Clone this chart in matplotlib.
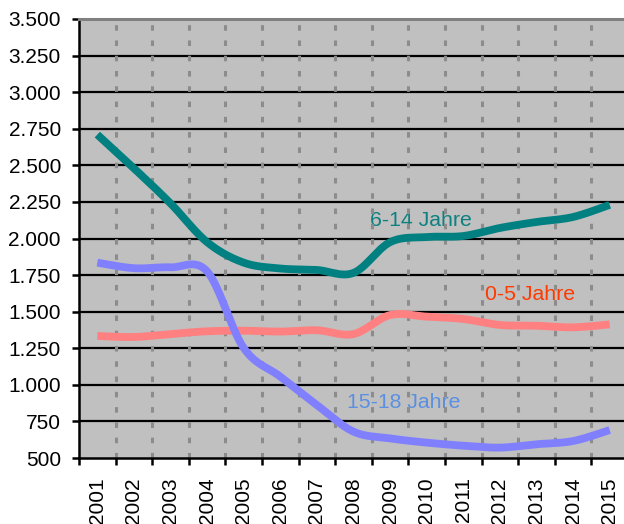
import matplotlib
matplotlib.use("Agg")
import matplotlib.pyplot as plt
import numpy as np
from matplotlib.ticker import FuncFormatter, FixedLocator

plt.rcParams['font.family'] = ['Liberation Sans', 'DejaVu Sans']
plt.rcParams['lines.scale_dashes'] = False

years = ["2001", "2002", "2003", "2004", "2005", "2006", "2007", "2008",
         "2009", "2010", "2011", "2012", "2013", "2014", "2015"]
age_6_14 = [2710, 2480, 2240, 1975, 1835, 1795, 1785, 1765, 1975, 2010, 2017, 2072, 2113, 2147, 2230]
age_0_5 = [1334, 1327, 1347, 1366, 1370, 1364, 1373, 1347, 1477, 1466, 1450, 1409, 1404, 1393, 1413]
age_15_18 = [1835, 1797, 1803, 1775, 1252, 1056, 862, 680, 634, 605, 584, 571, 594, 616, 691]

series = [
    ("6-14 Jahre", age_6_14, "#008080", "#0E8080", 8.85, 2120),
    ("0-5 Jahre", age_0_5, "#FF8080", "#FF3A00", 11.82, 1614),
    ("15-18 Jahre", age_15_18, "#8080FF", "#5B8FE0", 8.37, 877),
]


def smooth(xs, ys, n=30):
    """Excel-like smoothed line: cubic Bezier segments with Catmull-Rom control points."""
    xs = np.asarray(xs, float)
    ys = np.asarray(ys, float)
    px = np.concatenate([[xs[0]], xs, [xs[-1]]])
    py = np.concatenate([[ys[0]], ys, [ys[-1]]])
    outx, outy = [], []
    t = np.linspace(0, 1, n)
    for i in range(len(xs) - 1):
        p0 = np.array([px[i + 1], py[i + 1]])
        p3 = np.array([px[i + 2], py[i + 2]])
        c1 = p0 + (np.array([px[i + 2], py[i + 2]]) - np.array([px[i], py[i]])) / 6.0
        c2 = p3 - (np.array([px[i + 3], py[i + 3]]) - np.array([px[i + 1], py[i + 1]])) / 6.0
        bx = (1 - t) ** 3 * p0[0] + 3 * (1 - t) ** 2 * t * c1[0] + 3 * (1 - t) * t ** 2 * c2[0] + t ** 3 * p3[0]
        by = (1 - t) ** 3 * p0[1] + 3 * (1 - t) ** 2 * t * c1[1] + 3 * (1 - t) * t ** 2 * c2[1] + t ** 3 * p3[1]
        outx.extend(bx)
        outy.extend(by)
    return np.array(outx), np.array(outy)


fig = plt.figure(figsize=(6.24, 5.24), dpi=100)
fig.patch.set_facecolor("white")
ax = fig.add_axes([79 / 624, 1 - 458 / 524, 549 / 624, 439 / 524])
ax.set_facecolor("#C0C0C0")

x = np.arange(len(years))
ax.set_xlim(-0.5, len(years) - 0.5)
ax.set_ylim(500, 3500)

# horizontal gridlines
yt = np.arange(500, 3501, 250)
for v in yt[1:-1]:
    ax.axhline(v, color="black", lw=1.6, zorder=2)
# vertical dashed gridlines at category boundaries
for b in np.arange(0.5, len(years) - 0.5, 1.0):
    ax.axvline(b, color="#8C8C8C", lw=2.2, dashes=(4.0, 7.0), zorder=2.5)

for name, vals, lc, tc, lx, ly in series:
    sx, sy = smooth(x, vals)
    ax.plot(sx, sy, color=lc, lw=5.6, solid_capstyle="butt", zorder=3)
    ax.text(lx, ly, name, color=tc, fontsize=15.3, ha="center", va="center", zorder=2.2)

# spines
ax.spines["top"].set_color("#808080")
ax.spines["top"].set_linewidth(2.2)
ax.spines["right"].set_visible(False)
ax.spines["left"].set_linewidth(1.8)
ax.spines["bottom"].set_linewidth(1.8)
for s in ax.spines.values():
    s.set_zorder(4)

ax.yaxis.set_major_locator(FixedLocator(yt))
ax.yaxis.set_major_formatter(FuncFormatter(lambda v, p: f"{int(v):,}".replace(",", ".")))
ax.tick_params(axis="y", direction="out", length=5, width=1.8, pad=8, labelsize=15, colors="black")

ax.xaxis.set_major_locator(FixedLocator(np.arange(-0.5, len(years), 1.0)))
ax.xaxis.set_minor_locator(FixedLocator(x))
ax.set_xticklabels([])
ax.set_xticklabels(years, minor=True, rotation=90, fontsize=15)
ax.tick_params(axis="x", which="major", direction="out", length=5, width=1.8)
ax.tick_params(axis="x", which="minor", length=0, pad=14)

fig.savefig("out.png", dpi=100)
